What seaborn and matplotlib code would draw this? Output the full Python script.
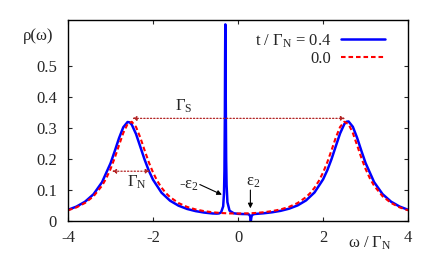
import matplotlib
matplotlib.use("Agg")
import matplotlib.pyplot as plt
import seaborn as sns
import pandas as pd

# t / Gamma_N = 0.4  (blue, solid)
omega_t04 = [-4.0, -3.8, -3.6, -3.4, -3.2, -3.0, -2.9, -2.8, -2.7, -2.6, -2.55, -2.5,
             -2.4, -2.3, -2.2, -2.1, -2.0, -1.8, -1.6, -1.4, -1.2, -1.0, -0.8, -0.6,
             -0.5, -0.45, -0.4, -0.35, -0.33, -0.32, -0.31, -0.305, -0.3, -0.299, -0.295,
             -0.29, -0.28, -0.27, -0.25, -0.2, -0.1, 0.0, 0.1, 0.2, 0.25, 0.28, 0.29,
             0.295, 0.3, 0.305, 0.31, 0.32, 0.35, 0.4, 0.5, 0.6, 0.8, 1.0, 1.2, 1.4,
             1.6, 1.8, 2.0, 2.1, 2.2, 2.3, 2.4, 2.5, 2.55, 2.6, 2.7, 2.8, 2.9, 3.0,
             3.2, 3.4, 3.6, 3.8, 4.0]
rho_t04 = [0.0361, 0.0466, 0.0623, 0.0865, 0.1254, 0.1866, 0.2263, 0.2680, 0.3032, 0.3201, 0.3191, 0.3116,
           0.2814, 0.2405, 0.1992, 0.1630, 0.1334, 0.0915, 0.0657, 0.0495, 0.0390, 0.0320, 0.0273, 0.0243,
           0.0238, 0.0244, 0.0275, 0.0474, 0.0919, 0.1616, 0.349, 0.515, 0.634, 0.636, 0.568,
           0.408, 0.198, 0.116, 0.0609, 0.0332, 0.0249, 0.0231, 0.0225, 0.0223, 0.0217, 0.0174, 0.0099,
           0.0036, 0.0, 0.0034, 0.0091, 0.0163, 0.0213, 0.0227, 0.0238, 0.0249, 0.0281, 0.0328, 0.0398, 0.0503,
           0.0666, 0.0925, 0.1346, 0.1644, 0.2007, 0.2422, 0.2833, 0.3135, 0.3210, 0.3219, 0.3047, 0.2693, 0.2273, 0.1874,
           0.1258, 0.0868, 0.0624, 0.0467, 0.0362]

# t / Gamma_N = 0.0  (red, dashed)
omega_t00 = [-4.0, -3.8, -3.6, -3.4, -3.2, -3.1, -3.0, -2.9, -2.8, -2.7, -2.6, -2.5, -2.4,
             -2.3, -2.2, -2.1, -2.0, -1.9, -1.8, -1.7, -1.6, -1.4, -1.2, -1.0, -0.8, -0.6,
             -0.4, -0.2, 0.0, 0.2, 0.4, 0.6, 0.8, 1.0, 1.2, 1.4, 1.6, 1.7, 1.8, 1.9, 2.0,
             2.1, 2.2, 2.3, 2.4, 2.5, 2.6, 2.7, 2.8, 2.9, 3.0, 3.1, 3.2, 3.4, 3.6, 3.8, 4.0]
rho_t00 = [0.0345, 0.0441, 0.0583, 0.0799, 0.1141, 0.1382, 0.1682, 0.2045, 0.2451, 0.2847, 0.3134, 0.3209, 0.3042,
           0.2701, 0.2293, 0.1903, 0.1568, 0.1295, 0.1078, 0.0907, 0.0772, 0.0580, 0.0456, 0.0374, 0.0319, 0.0282,
           0.0258, 0.0245, 0.0241, 0.0245, 0.0258, 0.0282, 0.0319, 0.0374, 0.0456, 0.0580, 0.0772, 0.0907, 0.1078, 0.1295, 0.1568,
           0.1903, 0.2293, 0.2701, 0.3042, 0.3209, 0.3134, 0.2847, 0.2451, 0.2045, 0.1682, 0.1382, 0.1141, 0.0799, 0.0583, 0.0441, 0.0345]

xticks = [-4, -2, 0, 2, 4]
xtick_labels = ["-4", "-2", "0", "2", "4"]
yticks = [0, 0.1, 0.2, 0.3, 0.4, 0.5]
ytick_labels = ["0", "0.1", "0.2", "0.3", "0.4", "0.5"]

sns.set_style("ticks")
plt.rcParams["font.family"] = ["Liberation Serif", "DejaVu Serif"]
plt.rcParams["mathtext.fontset"] = "custom"
plt.rcParams["mathtext.rm"] = "Liberation Serif"
plt.rcParams["mathtext.it"] = "Liberation Serif:italic"
plt.rcParams["axes.unicode_minus"] = False
plt.rcParams["font.size"] = 12

df_blue = pd.DataFrame({"omega": omega_t04, "rho": rho_t04})
df_red = pd.DataFrame({"omega": omega_t00, "rho": rho_t00})

fig = plt.figure(figsize=(4.36, 2.54), dpi=100)
ax = fig.add_axes([0.156, 0.130, 0.780, 0.791])

sns.lineplot(data=df_blue, x="omega", y="rho", ax=ax, color="#0000ff", lw=1.8,
             label=r"t / $\Gamma_\mathrm{N}$ = 0.4")
sns.lineplot(data=df_red, x="omega", y="rho", ax=ax, color="#ff0000", lw=1.5,
             linestyle=(0, (2.2, 1.4)), label="0.0")

ax.set_xlim(-4, 4)
ax.set_ylim(0, 0.65)
ax.set_xticks(xticks)
ax.set_xticklabels(xtick_labels)
ax.set_yticks(yticks)
ax.set_yticklabels(ytick_labels)
ax.tick_params(direction="in", length=3, width=0.8, top=True, right=True, labelsize=12)
ax.tick_params(axis="x", pad=6.5)
ax.tick_params(axis="y", pad=8)
for s in ax.spines.values():
    s.set_linewidth(1.0)
    s.set_color("black")
ax.set_xlabel("")
ax.set_ylabel("")

ax.text(-4.35, 0.60, "ρ(ω)", ha="right", va="center", fontsize=12)
ax.text(3.09, -0.086, r"ω / $\Gamma_\mathrm{N}$", ha="center", va="baseline", fontsize=12)

arrow_col = "#b22222"
ax.annotate("", xy=(-2.49, 0.332), xytext=(2.52, 0.332),
            arrowprops=dict(arrowstyle="<|-|>", linestyle=":", color=arrow_col, lw=0.9,
                            mutation_scale=6, shrinkA=0, shrinkB=0))
ax.annotate("", xy=(-2.97, 0.161), xytext=(-2.07, 0.161),
            arrowprops=dict(arrowstyle="<|-|>", linestyle=":", color=arrow_col, lw=0.9,
                            mutation_scale=6, shrinkA=0, shrinkB=0))
ax.text(-1.48, 0.358, r"$\Gamma_\mathrm{S}$", ha="left", va="baseline", fontsize=12)
ax.text(-2.62, 0.111, r"$\Gamma_\mathrm{N}$", ha="left", va="baseline", fontsize=12)

ax.annotate("", xy=(-0.38, 0.085), xytext=(-0.90, 0.118),
            arrowprops=dict(arrowstyle="-|>", color="black", lw=0.8,
                            mutation_scale=7, shrinkA=0, shrinkB=0))
ax.annotate("", xy=(0.29, 0.041), xytext=(0.29, 0.100),
            arrowprops=dict(arrowstyle="-|>", color="black", lw=0.8,
                            mutation_scale=7, shrinkA=0, shrinkB=0))
ax.text(-1.39, 0.105, r"-ε$_\mathrm{2}$", ha="left", va="baseline", fontsize=12)
ax.text(0.195, 0.116, r"ε$_\mathrm{2}$", ha="left", va="baseline", fontsize=12)

ax.legend(loc="upper right", bbox_to_anchor=(0.932, 0.94), frameon=False,
          markerfirst=False, borderpad=0, borderaxespad=0, handlelength=2.64,
          handletextpad=0.6, labelspacing=0.1, fontsize=12)

fig.savefig("out.png", dpi=100)
